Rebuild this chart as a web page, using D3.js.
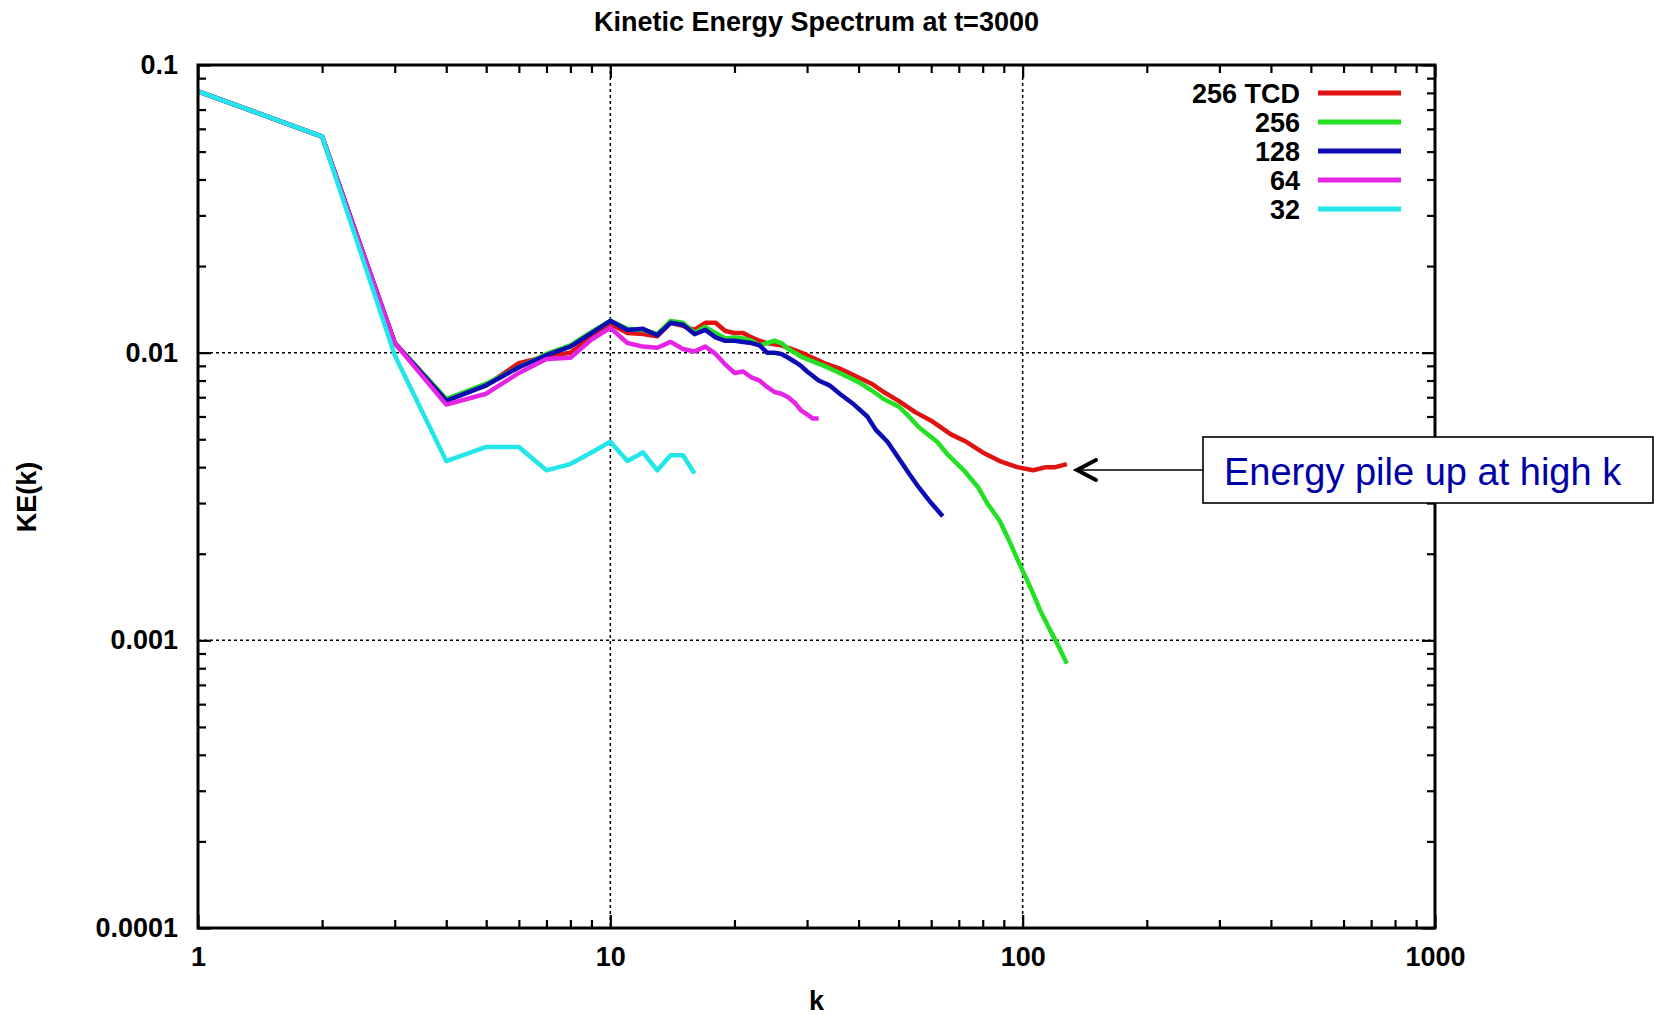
<!DOCTYPE html>
<html>
<head>
<meta charset="utf-8">
<script src="https://cdn.jsdelivr.net/npm/d3@7"></script>
<style>
body { margin: 0; background: #fff; }
svg text { font-family: "Liberation Sans", Arial, sans-serif; font-weight: bold; fill: #000; }
</style>
</head>
<body>
<script>
"use strict";

// series (k, KE(k))
let kRed = [1,2,3,4,5,6,7,8,9,10,11,12,13,14,15,16,17,18,19,20,21,22,23,24,25,26,27,28,29,30,33,36,40,43,46,50,55,60,67,73,80,88,97,106,114,120,128];
let keRed = [0.081,0.0564,0.0108,0.0069,0.0077,0.0092,0.0097,0.0100,0.0114,0.0126,0.0117,0.0116,0.0114,0.0127,0.0124,0.0120,0.0127,0.0127,0.0119,0.0117,0.0117,0.0113,0.0110,0.0108,0.0107,0.0106,0.0104,0.0102,0.0100,0.0098,0.0092,0.0088,0.0082,0.0078,0.0073,0.0068,0.0062,0.0058,0.0052,0.0049,0.0045,0.0042,0.0040,0.0039,0.0040,0.0040,0.0041];

let kGreen = [1,2,3,4,5,6,7,8,9,10,11,12,13,14,15,16,17,18,19,20,21,22,23,24,25,26,27,28,29,30,33,36,40,43,46,50,53,56,62,66,72,78,82,88,93,99,105,110,116,121,128];
let keGreen = [0.081,0.0564,0.0108,0.0069,0.0078,0.0089,0.0099,0.0106,0.0118,0.0129,0.0121,0.0120,0.0116,0.0129,0.0127,0.0117,0.0123,0.0117,0.0112,0.0113,0.0112,0.0110,0.0106,0.0108,0.0110,0.0108,0.0103,0.0100,0.0097,0.0095,0.0090,0.0085,0.0079,0.0074,0.0069,0.0065,0.0060,0.0055,0.0049,0.0044,0.0039,0.0034,0.0030,0.0026,0.0022,0.0018,0.0015,0.00128,0.0011,0.00098,0.00083];

let kBlue = [1,2,3,4,5,6,7,8,9,10,11,12,13,14,15,16,17,18,19,20,21,22,23,24,25,26,27,28,29,30,31,32,34,36,39,42,44,47,50,53,56,60,64];
let keBlue = [0.081,0.0564,0.0108,0.0068,0.0077,0.0089,0.0098,0.0105,0.0117,0.0129,0.0120,0.0121,0.0115,0.0127,0.0125,0.0116,0.0120,0.0113,0.0110,0.0110,0.0109,0.0108,0.0106,0.0100,0.0100,0.0099,0.0096,0.0093,0.0090,0.0086,0.0083,0.0080,0.0077,0.0072,0.0066,0.0060,0.0054,0.0049,0.0043,0.0038,0.0034,0.0030,0.0027];

let kMagenta = [1,2,3,4,5,6,7,8,9,10,11,12,13,14,15,16,17,18,19,20,21,22,23,24,25,26,27,28,29,30,31,32];
let keMagenta = [0.081,0.0564,0.0108,0.0066,0.0072,0.0085,0.0095,0.0096,0.0111,0.0122,0.0108,0.0105,0.0104,0.0109,0.0103,0.0101,0.0105,0.0099,0.0091,0.0085,0.0086,0.0082,0.0080,0.0076,0.0073,0.0072,0.0070,0.0067,0.0063,0.0061,0.0059,0.0059];

let kCyan = [1,2,3,4,5,6,7,8,9,10,11,12,13,14,15,16];
let keCyan = [0.081,0.0564,0.0098,0.0042,0.0047,0.0047,0.0039,0.0041,0.0045,0.0049,0.0042,0.0045,0.0039,0.0044,0.0044,0.0038];

let seriesNames = ['256 TCD', '256', '128', '64', '32'];
let seriesColors = ['#e01212', '#22e022', '#0c0cb4', '#e624e6', '#22e6ea'];

let xMajor = [1, 10, 100, 1000];
let yMajor = [0.0001, 0.001, 0.01, 0.1];

let width = 1654;
let height = 1015;
let margin = {left: 198, right: 219, top: 65, bottom: 87};

let svg = d3.select('body')
    .append('svg')
    .attr('width', width)
    .attr('height', height);

let x = d3.scaleLog().domain([1, 1000]).range([margin.left, width - margin.right]);
let y = d3.scaleLog().domain([0.0001, 0.1]).range([height - margin.bottom, margin.top]);

let x0 = x.range()[0], x1 = x.range()[1];
let y0 = y.range()[1], y1 = y.range()[0];

// minor ticks: every 1..9 inside each decade
let xMinor = x.ticks().filter(function(d) { return xMajor.indexOf(d) < 0; });
let yMinor = y.ticks().filter(function(d) { return yMajor.map(String).indexOf(String(d)) < 0; });

// dotted grid
let grid = svg.append('g')
    .attr('stroke', '#000')
    .attr('stroke-width', 1.5)
    .attr('stroke-dasharray', '3,3');
grid.selectAll('.gx').data([10, 100]).enter().append('line')
    .attr('x1', function(d) { return x(d); }).attr('x2', function(d) { return x(d); })
    .attr('y1', y0).attr('y2', y1);
grid.selectAll('.gy').data([0.01, 0.001]).enter().append('line')
    .attr('y1', function(d) { return y(d); }).attr('y2', function(d) { return y(d); })
    .attr('x1', x0).attr('x2', x1);

function drawAxis(axis, tx, ty) {
    let g = svg.append('g')
        .attr('transform', 'translate(' + tx + ',' + ty + ')')
        .call(axis);
    g.select('.domain').remove();
    g.selectAll('line').attr('stroke', '#000').attr('stroke-width', 2.2);
    g.selectAll('text').attr('font-size', 27).attr('fill', '#000');
    return g;
}

// minor ticks on all four sides
drawAxis(d3.axisBottom(x).tickValues(xMinor).tickSize(-8).tickFormat(''), 0, y1);
drawAxis(d3.axisTop(x).tickValues(xMinor).tickSize(-8).tickFormat(''), 0, y0);
drawAxis(d3.axisLeft(y).tickValues(yMinor).tickSize(-8).tickFormat(''), x0, 0);
drawAxis(d3.axisRight(y).tickValues(yMinor).tickSize(-8).tickFormat(''), x1, 0);

// major ticks and labels
drawAxis(d3.axisBottom(x).tickValues(xMajor).tickSize(-13).tickPadding(19).tickFormat(d3.format('d')), 0, y1);
drawAxis(d3.axisTop(x).tickValues(xMajor).tickSize(-13).tickFormat(''), 0, y0);
drawAxis(d3.axisLeft(y).tickValues(yMajor).tickSize(-13).tickPadding(20).tickFormat(function(d) { return String(d); }), x0, 0);
drawAxis(d3.axisRight(y).tickValues(yMajor).tickSize(-13).tickFormat(''), x1, 0);

// curves
let allK = [kRed, kGreen, kBlue, kMagenta, kCyan];
let allKE = [keRed, keGreen, keBlue, keMagenta, keCyan];

let line = d3.line()
    .x(function(d) { return x(d[0]); })
    .y(function(d) { return y(d[1]); });

let series = allK.map(function(ks, i) {
    return ks.map(function(k, j) { return [k, allKE[i][j]]; });
});

svg.append('g').selectAll('.curve')
    .data(series)
    .enter()
    .append('path')
    .attr('class', 'curve')
    .attr('d', line)
    .attr('fill', 'none')
    .attr('stroke', function(d, i) { return seriesColors[i]; })
    .attr('stroke-width', 4.5)
    .attr('stroke-linejoin', 'round');

// frame
svg.append('rect')
    .attr('x', x0).attr('y', y0)
    .attr('width', x1 - x0).attr('height', y1 - y0)
    .attr('fill', 'none')
    .attr('stroke', '#000')
    .attr('stroke-width', 3);

// legend
let legend = svg.append('g').selectAll('.leg')
    .data(seriesNames)
    .enter()
    .append('g')
    .attr('class', 'leg')
    .attr('transform', function(d, i) { return 'translate(0,' + (93 + i * 29) + ')'; });
legend.append('text')
    .attr('x', 1300)
    .attr('dy', '0.36em')
    .attr('text-anchor', 'end')
    .attr('font-size', 27)
    .text(function(d) { return d; });
legend.append('line')
    .attr('x1', 1318).attr('x2', 1401)
    .attr('stroke', function(d, i) { return seriesColors[i]; })
    .attr('stroke-width', 5);

// titles
svg.append('text')
    .attr('x', (x0 + x1) / 2)
    .attr('y', 31)
    .attr('text-anchor', 'middle')
    .attr('font-size', 27)
    .text('Kinetic Energy Spectrum at t=3000');

svg.append('text')
    .attr('x', (x0 + x1) / 2)
    .attr('y', 1010)
    .attr('text-anchor', 'middle')
    .attr('font-size', 27)
    .text('k');

svg.append('text')
    .attr('transform', 'translate(36,497) rotate(-90)')
    .attr('text-anchor', 'middle')
    .attr('font-size', 27)
    .text('KE(k)');

// annotation
let boxX = 1203, boxY = 437, boxW = 450, boxH = 66;
svg.append('line')
    .attr('x1', boxX).attr('x2', 1078)
    .attr('y1', boxY + boxH / 2).attr('y2', boxY + boxH / 2)
    .attr('stroke', '#000')
    .attr('stroke-width', 1.6);
svg.append('path')
    .attr('d', 'M1096,' + (boxY + boxH / 2 - 10) + ' L1077,' + (boxY + boxH / 2) + ' L1096,' + (boxY + boxH / 2 + 10))
    .attr('fill', 'none')
    .attr('stroke', '#000')
    .attr('stroke-width', 4)
    .attr('stroke-linecap', 'round');
svg.append('rect')
    .attr('x', boxX).attr('y', boxY)
    .attr('width', boxW).attr('height', boxH)
    .attr('fill', '#fff')
    .attr('stroke', '#000')
    .attr('stroke-width', 1.6);
svg.append('text')
    .attr('x', 1224)
    .attr('y', 485)
    .attr('font-size', 38)
    .style('font-weight', 'normal')
    .style('fill', '#0000a8')
    .text('Energy pile up at high k');
</script>
</body>
</html>
